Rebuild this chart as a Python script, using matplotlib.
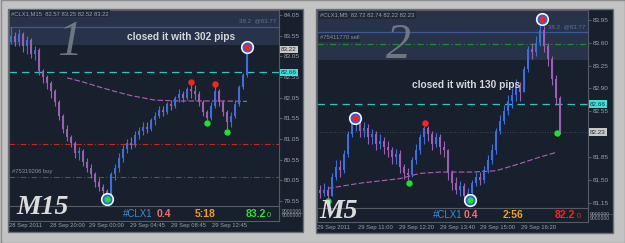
import numpy as np
import matplotlib.pyplot as plt

plt.rcParams['font.family'] = ['Liberation Sans', 'DejaVu Sans']

# ---- left chart: #CLX1 M15 ----
m15_open0 = 83.40
m15_close = [83.55, 83.40, 83.60, 83.30, 83.45, 83.10, 83.20, 82.70, 82.55, 82.40,
             82.20, 81.95, 81.60, 81.30, 81.10, 80.95, 80.70, 80.75, 80.50, 80.35,
             80.20, 80.00, 79.90, 79.80, 79.70, 80.20, 80.35, 80.60, 80.80, 80.95,
             80.90, 81.15, 81.25, 81.35, 81.30, 81.50, 81.60, 81.75, 81.70, 81.90,
             81.85, 82.05, 82.15, 82.05, 82.25, 82.20, 82.15, 81.95, 81.70, 81.55,
             81.85, 82.20, 81.95, 81.70, 81.45, 81.60, 81.90, 82.30, 82.60, 83.22]
m15_high = [83.75, 83.65, 83.70, 83.65, 83.55, 83.50, 83.30, 83.25, 82.75, 82.60,
            82.45, 82.25, 82.00, 81.65, 81.40, 81.15, 81.00, 80.85, 80.80, 80.60,
            80.45, 80.25, 80.10, 79.95, 79.85, 80.25, 80.45, 80.70, 80.90, 81.05,
            81.10, 81.25, 81.35, 81.45, 81.45, 81.55, 81.70, 81.85, 81.85, 81.95,
            82.00, 82.10, 82.25, 82.20, 82.30, 82.38, 82.35, 82.20, 82.00, 81.75,
            81.95, 82.33, 82.25, 82.00, 81.75, 81.70, 82.00, 82.35, 82.65, 83.25]
m15_low = [83.35, 83.30, 83.30, 83.15, 83.10, 83.00, 82.95, 82.60, 82.40, 82.25,
           82.05, 81.85, 81.50, 81.20, 81.00, 80.85, 80.60, 80.55, 80.40, 80.25,
           80.10, 79.90, 79.80, 79.70, 79.62, 79.65, 80.05, 80.25, 80.50, 80.70,
           80.80, 80.85, 81.05, 81.15, 81.20, 81.25, 81.40, 81.55, 81.60, 81.65,
           81.75, 81.80, 81.95, 81.95, 82.00, 82.05, 82.00, 81.85, 81.60, 81.50,
           81.50, 81.80, 81.85, 81.60, 81.30, 81.35, 81.55, 81.85, 82.25, 82.55]
m15_ma_idx = [14, 18, 22, 26, 30, 36, 42, 47, 53, 59]
m15_ma_val = [82.53, 82.43, 82.31, 82.20, 82.10, 81.99, 81.97, 81.97, 81.97, 81.96]
m15_red_idx, m15_red_px = [45, 51], [82.44, 82.39]
m15_grn_idx, m15_grn_px = [49, 54], [81.43, 81.21]
m15_entry = (24, 79.60)
m15_exit = (59, 83.28)
m15_levels = {'tp': 83.77, 'cur': 82.66, 'stop': 80.93, 'order': 80.13}
m15_ticks = [84.05, 83.55, 83.05, 82.55, 82.05, 81.55, 81.05, 80.55, 80.05, 79.55]
m15_time_pos = [-0.5, 9.75, 19.5, 29.75, 40, 50.25]
m15_time_lbl = ['28 Sep 2011', '28 Sep 20:00', '29 Sep 00:00', '29 Sep 04:45',
                '29 Sep 08:45', '29 Sep 12:45']

# ---- right chart: #CLX1 M5 ----
m5_open0 = 81.35
m5_close = [81.30, 81.35, 81.25, 81.55, 81.70, 81.65, 81.90, 82.20, 82.35, 82.40,
            82.25, 82.30, 82.15, 82.20, 82.05, 82.10, 82.00, 81.95, 81.85, 81.90,
            81.70, 81.60, 81.58, 81.80, 81.95, 82.15, 82.30, 82.20, 82.05, 82.15,
            82.00, 81.95, 81.60, 81.45, 81.35, 81.40, 81.25, 81.30, 81.45, 81.55,
            81.50, 81.65, 81.80, 81.95, 82.25, 82.40, 82.55, 82.70, 82.80, 82.95,
            82.85, 83.20, 83.50, 83.45, 83.60, 83.80, 83.55, 83.35, 83.05, 82.75,
            82.23]
m5_high = [81.42, 81.45, 81.40, 81.60, 81.80, 81.80, 81.95, 82.25, 82.40, 82.48,
           82.45, 82.38, 82.35, 82.28, 82.25, 82.20, 82.15, 82.10, 82.00, 81.98,
           81.95, 81.75, 81.68, 81.85, 82.05, 82.20, 82.33, 82.32, 82.25, 82.22,
           82.20, 82.10, 81.98, 81.65, 81.55, 81.48, 81.45, 81.38, 81.50, 81.62,
           81.62, 81.72, 81.88, 82.05, 82.30, 82.50, 82.65, 82.80, 82.90, 83.05,
           83.00, 83.25, 83.55, 83.60, 83.70, 83.90, 83.85, 83.60, 83.40, 83.10,
           82.78]
m5_low = [81.22, 81.25, 81.21, 81.25, 81.50, 81.55, 81.60, 81.85, 82.15, 82.25,
          82.15, 82.15, 82.05, 82.05, 81.95, 81.98, 81.90, 81.85, 81.75, 81.75,
          81.60, 81.52, 81.50, 81.55, 81.75, 81.90, 82.05, 82.10, 81.95, 82.00,
          81.90, 81.85, 81.50, 81.35, 81.28, 81.25, 81.20, 81.19, 81.25, 81.40,
          81.42, 81.45, 81.60, 81.75, 81.90, 82.20, 82.35, 82.50, 82.60, 82.70,
          82.70, 82.85, 83.15, 83.35, 83.40, 83.55, 83.45, 83.25, 82.95, 82.65,
          82.20]
m5_ma_idx = [2, 10, 20, 25, 30, 38, 44, 50, 55, 59]
m5_ma_val = [81.37, 81.45, 81.52, 81.60, 81.62, 81.62, 81.64, 81.75, 81.85, 81.92]
m5_red_idx, m5_red_px = [26.25], [82.37]
m5_grn_idx, m5_grn_px = [2, 22.25, 59.25], [81.18, 81.46, 82.22]
m5_entry = (8.75, 82.44)
m5_exit = (37.5, 81.19)
m5_top = (55.5, 83.96)
m5_levels = {'tp': 83.77, 'cur': 82.66, 'order': 83.58, 'last': 82.23}
m5_ticks = [83.95, 83.60, 83.25, 82.90, 82.55, 82.20, 81.85, 81.50, 81.15]
m5_hidden_tick = 82.20   # covered by the 82.23 price box
m5_time_pos = [-0.75, 9.5, 19.75, 30, 40, 50.25]
m5_time_lbl = ['29 Sep 2011', '29 Sep 11:00', '29 Sep 12:20', '29 Sep 13:40',
               '29 Sep 15:00', '29 Sep 16:20']

W, H = 625, 243
BG = '#18202d'
BAND = '#28334a'
UP, DN = '#3d6ee0', '#9b5fb5'
GRID = '#9aa0a8'


def rect(x0, y0, x1, y1):
    return [x0 / W, 1 - y1 / H, (x1 - x0) / W, (y1 - y0) / H]


fig = plt.figure(figsize=(6.25, 2.43), dpi=100, facecolor='#c3c3c3')

# background layer in pixel coordinates
bg = fig.add_axes([0, 0, 1, 1], zorder=0)
bg.set_xlim(0, W)
bg.set_ylim(H, 0)
bg.axis('off')
bg.add_patch(plt.Rectangle((0.5, 0.5), W - 1, H - 1, fc='none', ec='#8c8c8c', lw=1))
for x0, y0, x1, y1 in [(8, 9, 303, 232), (316, 9, 613, 233)]:
    bg.add_patch(plt.Rectangle((x0, y0), x1 - x0, y1 - y0, fc=BG, ec='#6a6e74', lw=1))


def draw_chart(box, xlim, ylim, opn0, close, high, low):
    ax = fig.add_axes(rect(*box), zorder=1)
    ax.set_facecolor('none')
    close = np.array(close)
    opens = np.concatenate([[opn0], close[:-1]])
    x = np.arange(len(close))
    cols = np.where(close >= opens, UP, DN)
    ax.vlines(x, low, high, colors=cols, lw=0.8, zorder=3)
    ax.bar(x, close - opens, bottom=opens, width=0.6, color=cols, zorder=3)
    ax.set_xlim(*xlim)
    ax.set_ylim(*ylim)
    ax.axhspan(83.33, 90, color=BAND, zorder=0, lw=0)
    for s in ax.spines.values():
        s.set_color('#555b63')
        s.set_linewidth(0.8)
    ax.yaxis.tick_right()
    ax.tick_params(axis='y', colors='#555b63', labelcolor=GRID, length=2, pad=1.5,
                   labelsize=4.6)
    ax.tick_params(axis='x', length=0, pad=12.5, labelcolor=GRID, labelsize=4.2)
    return ax


def price_box(ax, y, txt, fc, tc):
    ax.text(1.008, y, txt, transform=ax.get_yaxis_transform(), fontsize=4.6,
            color=tc, va='center', ha='left', clip_on=False,
            bbox=dict(boxstyle='square,pad=0.2', fc=fc, ec='none'))


def rings(ax, pt, inner):
    ax.plot(*pt, 'o', ms=8.5, mfc='white', mec='white', zorder=6)
    ax.plot(*pt, 'o', ms=6.2, mfc='#2a5fe0', mec='#2a5fe0', zorder=6)
    ax.plot(*pt, 'o', ms=3.6, mfc=inner, mec=inner, zorder=6)


# ---- left ----
a1 = draw_chart((9, 10, 279, 206), (-0.5, 67), (79.43, 84.17),
                m15_open0, m15_close, m15_high, m15_low)
a1.set_yticks(m15_ticks)
a1.set_yticklabels([f'{t:.2f}' for t in m15_ticks])
a1.set_xticks(m15_time_pos)
a1.set_xticklabels(m15_time_lbl, ha='left')
a1.axhline(m15_levels['tp'], color='#3a5a9a', lw=0.9, zorder=1)
a1.axhline(m15_levels['cur'], color='#2ac8c0', lw=0.9, dashes=(6, 4), zorder=1)
a1.axhline(m15_levels['stop'], color='#c8281e', lw=0.8, dashes=(5, 2, 1, 2), zorder=1)
a1.axhline(m15_levels['order'], color='#1f7a2a', lw=0.8, dashes=(5, 2, 1, 2), zorder=1)
a1.plot(m15_ma_idx, m15_ma_val, color='#b25fb8', lw=0.8, dashes=(5, 2), zorder=2)
a1.plot(m15_red_idx, m15_red_px, 'o', ms=3.6, color='#ff2020', zorder=5)
a1.plot(m15_grn_idx, m15_grn_px, 'o', ms=3.6, color='#20e030', zorder=5)
rings(a1, m15_entry, '#20e030')
rings(a1, m15_exit, '#ff2020')
price_box(a1, 83.22, '83.22', '#c8c8c8', '#303030')
price_box(a1, m15_levels['cur'], '82.66', '#3fe0d8', '#1a3a40')
a1.text(0.99, m15_levels['tp'] + 0.09, '38.2  @83.77', transform=a1.get_yaxis_transform(),
        ha='right', fontsize=4.4, color='#5a7394')
a1.text(0.01, m15_levels['order'] + 0.1, '#75319206 buy', transform=a1.get_yaxis_transform(),
        fontsize=4.2, color='#8a9098')

# ---- right ----
a2 = draw_chart((317, 10, 588, 208), (-0.75, 67), (81.07, 84.10),
                m5_open0, m5_close, m5_high, m5_low)
a2.set_yticks(m5_ticks)
a2.set_yticklabels(['' if t == m5_hidden_tick else f'{t:.2f}' for t in m5_ticks])
a2.set_xticks(m5_time_pos)
a2.set_xticklabels(m5_time_lbl, ha='left')
a2.axhline(m5_levels['tp'], color='#3a5a9a', lw=0.9, zorder=1)
a2.axhline(m5_levels['order'], color='#1f8a2a', lw=0.9, dashes=(5, 2, 1, 2), zorder=1)
a2.axhline(m5_levels['cur'], color='#2ac8c0', lw=0.9, dashes=(6, 4), zorder=1)
a2.axhline(m5_levels['last'], color='#4a525c', lw=0.6, dashes=(1, 2), zorder=1)
a2.plot(m5_ma_idx, m5_ma_val, color='#b25fb8', lw=0.8, dashes=(5, 2), zorder=2)
a2.plot(m5_red_idx, m5_red_px, 'o', ms=3.6, color='#ff2020', zorder=5)
a2.plot(m5_grn_idx, m5_grn_px, 'o', ms=3.6, color='#20e030', zorder=5)
rings(a2, m5_entry, '#ff2020')
rings(a2, m5_exit, '#20e030')
rings(a2, m5_top, '#ff2020')
price_box(a2, m5_levels['cur'], '82.66', '#3fe0d8', '#1a3a40')
price_box(a2, m5_levels['last'], '82.23', '#c8c8c8', '#303030')
a2.text(0.99, m5_levels['tp'] + 0.05, '38.2  @83.77', transform=a2.get_yaxis_transform(),
        ha='right', fontsize=4.4, color='#5a7394')
a2.text(0.01, m5_levels['order'] + 0.07, '#75411770 sell', transform=a2.get_yaxis_transform(),
        fontsize=4.2, color='#8a9098',
        bbox=dict(boxstyle='square,pad=0.2', fc='#20283a', ec='none'))

# ---- overlay texts in pixel coordinates ----
top = fig.add_axes([0, 0, 1, 1], zorder=5)
top.set_xlim(0, W)
top.set_ylim(H, 0)
top.axis('off')
top.patch.set_alpha(0)

for (x0, x1, yb, yt, right) in [(9, 279, 206, 221, 303), (317, 588, 208, 222, 612)]:
    top.plot([x0, x1], [yt, yt], color='#555b63', lw=0.8)
    top.plot([x1, x1], [yb, yt], color='#555b63', lw=0.8)
    top.plot([x0, x0], [yb, yt], color='#555b63', lw=0.8)
    top.plot([x1 + 2, right], [yt - 8, yt - 8], color='#555b63', lw=0.5)

top.text(11, 13.5, '#CLX1,M15  82.57 83.25 82.52 83.22', fontsize=4.2, color='#9aa0a8',
         va='center', bbox=dict(boxstyle='square,pad=0.25', fc='#20283a', ec='none'))
top.text(320, 15, '#CLX1,M5  82.72 82.74 82.22 82.23', fontsize=4.2, color='#9aa0a8',
         va='center', bbox=dict(boxstyle='square,pad=0.25', fc='#20283a', ec='none'))

top.text(70, 43, '1', fontsize=36, family='Liberation Serif', style='italic',
         color='#7a848c', ha='center', va='center', alpha=0.85)
top.text(398, 46, '2', fontsize=36, family='Liberation Serif', style='italic',
         color='#7a848c', ha='center', va='center', alpha=0.85)

top.text(127, 36.5, 'closed it with 302 pips', fontsize=7.3, weight='bold',
         color='#d4d8dc', va='center')
top.text(412, 85, 'closed it with 130 pips', fontsize=7.3, weight='bold',
         color='#d4d8dc', va='center')

top.text(16, 207, 'M15', fontsize=20, family='Liberation Serif', style='italic',
         weight='bold', color='#dcdcdc', va='center')
top.text(319, 211, 'M5', fontsize=20, family='Liberation Serif', style='italic',
         weight='bold', color='#dcdcdc', va='center')

info = [(123, 214, '#CLX1', '#3a8ad8', 'normal', 7),
        (157, 214, '0.4', '#f07070', 'bold', 7.5),
        (195, 214, '5:18', '#f0a020', 'bold', 7.5),
        (246, 214, '83.2', '#30e030', 'bold', 7.5),
        (267, 215, '0', '#30e030', 'normal', 5.5),
        (433, 215, '#CLX1', '#3a8ad8', 'normal', 7),
        (464, 215, '0.4', '#f07070', 'bold', 7.5),
        (503, 215, '2:56', '#f0a020', 'bold', 7.5),
        (555, 215, '82.2', '#ff2020', 'bold', 7.5),
        (577, 216, '0', '#ff2020', 'normal', 5.5)]
for x, y, t, c, w, fs in info:
    top.text(x, y, t, color=c, weight=w, fontsize=fs, va='center')

for x, y in [(282, 211), (590, 214)]:
    top.text(x, y, '9000000', fontsize=3.6, color='#9aa0a8', va='center')
    top.text(x, y + 4.5, '9000000', fontsize=3.6, color='#9aa0a8', va='center')

fig.savefig('out.png', dpi=100, facecolor=fig.get_facecolor())
